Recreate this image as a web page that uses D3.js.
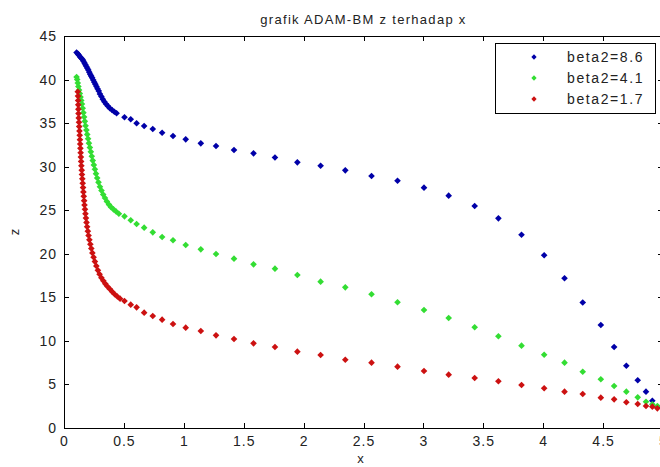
<!DOCTYPE html>
<html>
<head>
<meta charset="utf-8">
<script src="https://cdn.jsdelivr.net/npm/d3@7"></script>
<style>
  body { margin: 0; background: #fff; }
  svg { display: block; }
  .axis text { font-family: "Liberation Sans", Arial, sans-serif; font-size: 14px; letter-spacing: 1px; fill: #222; }
  .axis path, .axis line { stroke: #000; }
</style>
</head>
<body>
<div id="chart"></div>
<script>
// x positions shared by the sparse part of every series
const xSparse = [0.505, 0.557, 0.606, 0.669, 0.741, 0.819, 0.91, 1.016, 1.142, 1.269, 1.419, 1.582, 1.761,
  1.948, 2.142, 2.348, 2.567, 2.784, 3.005, 3.211, 3.428, 3.626, 3.819, 4.008, 4.178, 4.330, 4.481,
  4.592, 4.694, 4.789, 4.858, 4.911, 4.953];

const zBlue = [35.67, 35.44, 34.98, 34.67, 34.32, 33.90, 33.52, 33.14, 32.68, 32.37, 31.91, 31.53, 31.05,
  30.50, 30.11, 29.58, 28.93, 28.39, 27.59, 26.67, 25.49, 24.07, 22.19, 19.83, 17.19, 14.41, 11.82,
  9.30, 7.15, 5.48, 4.17, 3.13, 2.40];
const zGreen = [24.30, 23.85, 23.42, 23.00, 22.46, 21.93, 21.55, 21.01, 20.51, 19.97, 19.44, 18.79, 18.29,
  17.56, 16.80, 16.15, 15.35, 14.43, 13.55, 12.63, 11.56, 10.53, 9.45, 8.41, 7.50, 6.46, 5.59,
  4.82, 4.17, 3.52, 3.02, 2.72, 2.53];
const zRed = [14.58, 14.16, 13.85, 13.24, 12.86, 12.44, 11.94, 11.52, 11.14, 10.64, 10.22, 9.72, 9.30,
  8.76, 8.38, 7.84, 7.50, 7.04, 6.54, 6.12, 5.74, 5.36, 4.94, 4.56, 4.17, 3.90, 3.48,
  3.29, 2.95, 2.76, 2.53, 2.45, 2.26];

// dense start of each series [x, z]
const denseBlue = [[0.105,43.1],[0.115,42.95],[0.125,42.8],[0.135,42.6],[0.145,42.45],[0.155,42.3],[0.163,42.1],
  [0.171,41.9],[0.179,41.7],[0.187,41.5],[0.195,41.3],[0.203,41.1],[0.211,40.85],[0.219,40.6],[0.227,40.4],
  [0.235,40.2],[0.244,39.95],[0.253,39.7],[0.262,39.45],[0.271,39.2],[0.28,38.95],[0.29,38.7],[0.3,38.35],
  [0.312,38.05],[0.324,37.75],[0.337,37.45],[0.351,37.2],[0.366,36.95],[0.383,36.7],[0.401,36.5],[0.42,36.3],
  [0.439,36.13]];
const denseGreen = [[0.105,40.3],[0.11,40.0],[0.115,39.6],[0.12,39.2],[0.126,38.8],[0.132,38.4],[0.138,38.0],
  [0.144,37.6],[0.15,37.2],[0.156,36.7],[0.162,36.2],[0.168,35.7],[0.174,35.2],[0.18,34.7],[0.187,34.2],
  [0.194,33.7],[0.201,33.2],[0.208,32.7],[0.216,32.2],[0.224,31.7],[0.232,31.2],[0.24,30.7],[0.249,30.2],
  [0.258,29.7],[0.267,29.2],[0.277,28.7],[0.288,28.2],[0.3,27.7],[0.313,27.25],[0.327,26.8],[0.342,26.4],
  [0.358,26.0],[0.375,25.65],[0.393,25.35],[0.413,25.1],[0.435,24.85],[0.458,24.6]];
const denseRed = [[0.115,38.6],[0.117,38.1],[0.118,37.6],[0.119,37.1],[0.12,36.6],[0.121,36.1],[0.123,35.6],
  [0.125,35.1],[0.127,34.6],[0.129,34.1],[0.131,33.6],[0.133,33.1],[0.135,32.6],[0.137,32.1],[0.139,31.6],
  [0.141,31.1],[0.143,30.6],[0.145,30.1],[0.148,29.6],[0.15,29.1],[0.153,28.6],[0.156,28.1],[0.159,27.6],
  [0.162,27.1],[0.165,26.6],[0.168,26.1],[0.171,25.6],[0.175,25.1],[0.179,24.6],[0.183,24.1],[0.188,23.6],
  [0.193,23.1],[0.199,22.6],[0.205,22.1],[0.212,21.6],[0.22,21.1],[0.228,20.6],[0.237,20.1],[0.247,19.6],
  [0.258,19.1],[0.27,18.6],[0.283,18.1],[0.297,17.65],[0.312,17.25],[0.328,16.9],[0.345,16.55],[0.363,16.25],
  [0.382,15.95],[0.402,15.65],[0.423,15.35],[0.445,15.1],[0.468,14.85]];

const seriesNames = ['beta2=8.6', 'beta2=4.1', 'beta2=1.7'];
const seriesColors = ['#0000a8', '#33dd33', '#cc1111'];
const xTicks = [0, 0.5, 1, 1.5, 2, 2.5, 3, 3.5, 4, 4.5, 5];
const yTicks = [0, 5, 10, 15, 20, 25, 30, 35, 40, 45];

const series = [
  {name: seriesNames[0], color: seriesColors[0], pts: denseBlue.concat(xSparse.map((x, i) => [x, zBlue[i]]))},
  {name: seriesNames[1], color: seriesColors[1], pts: denseGreen.concat(xSparse.map((x, i) => [x, zGreen[i]]))},
  {name: seriesNames[2], color: seriesColors[2], pts: denseRed.concat(xSparse.map((x, i) => [x, zRed[i]]))}
];

const W = 660, H = 467;
const margin = {left: 64, top: 36, right: -3, bottom: 39};
const width = W - margin.left - margin.right;
const height = H - margin.top - margin.bottom;

const svg = d3.select('#chart').append('svg').attr('width', W).attr('height', H);
const chart = svg.append('g').attr('transform', `translate(${margin.left},${margin.top})`);

const xScale = d3.scaleLinear().domain([0, 5]).range([0, width]);
const yScale = d3.scaleLinear().domain([0, 45]).range([height, 0]);
const fmt = d3.format('~g');

// axes, ticks pointing inward like matlab
chart.append('g').attr('class', 'axis x-axis')
  .attr('transform', `translate(0,${height})`)
  .call(d3.axisBottom(xScale).tickValues(xTicks).tickFormat(fmt).tickSizeInner(-5).tickSizeOuter(0).tickPadding(8));
chart.append('g').attr('class', 'axis y-axis')
  .call(d3.axisLeft(yScale).tickValues(yTicks).tickFormat(fmt).tickSizeInner(-5).tickSizeOuter(0).tickPadding(7));
chart.append('g').attr('class', 'axis')
  .call(d3.axisTop(xScale).tickValues(xTicks).tickFormat('').tickSizeInner(-5).tickSizeOuter(0));
chart.append('g').attr('class', 'axis')
  .attr('transform', `translate(${width},0)`)
  .call(d3.axisRight(yScale).tickValues(yTicks).tickFormat('').tickSizeInner(-5).tickSizeOuter(0));
chart.selectAll('.axis .domain').remove();
chart.append('rect')
  .attr('width', width).attr('height', height)
  .attr('fill', 'none').attr('stroke', '#000').attr('stroke-width', 1)
  .attr('shape-rendering', 'crispEdges');
chart.selectAll('.axis line').attr('shape-rendering', 'crispEdges');

// markers
const marker = d3.symbol().type(d3.symbolSquare).size(22);
series.forEach((s) => {
  chart.append('g').attr('class', 'series')
    .selectAll('path')
    .data(s.pts)
    .join('path')
    .attr('d', marker)
    .attr('transform', (d) => `translate(${xScale(d[0])},${yScale(d[1])}) rotate(45)`)
    .attr('fill', s.color);
});

// title and axis labels
svg.append('text')
  .attr('x', margin.left + width / 2).attr('y', 24)
  .attr('text-anchor', 'middle')
  .attr('font-family', '"Liberation Sans", Arial, sans-serif')
  .attr('font-size', 13).attr('letter-spacing', 1.3).attr('fill', '#222')
  .text('grafik ADAM-BM z terhadap x');
svg.append('text')
  .attr('x', margin.left + width / 2 - 3).attr('y', 463)
  .attr('text-anchor', 'middle')
  .attr('font-family', '"Liberation Sans", Arial, sans-serif')
  .attr('font-size', 13).attr('fill', '#222')
  .text('x');
svg.append('text')
  .attr('transform', `translate(19,232) rotate(-90)`)
  .attr('text-anchor', 'middle')
  .attr('font-family', '"Liberation Sans", Arial, sans-serif')
  .attr('font-size', 13).attr('fill', '#222')
  .text('z');

// legend
const legend = svg.append('g').attr('transform', 'translate(495,43)');
legend.append('rect')
  .attr('width', 160).attr('height', 70)
  .attr('fill', '#fff').attr('stroke', '#000').attr('stroke-width', 1)
  .attr('shape-rendering', 'crispEdges');
const items = legend.selectAll('.item').data(series).join('g')
  .attr('class', 'item')
  .attr('transform', (d, i) => `translate(0,${14 + i * 21})`);
items.append('path')
  .attr('d', d3.symbol().type(d3.symbolSquare).size(14))
  .attr('transform', 'translate(39,0) rotate(45)')
  .attr('fill', (d) => d.color);
items.append('text')
  .attr('x', 72).attr('dy', '0.35em')
  .attr('font-family', '"Liberation Sans", Arial, sans-serif')
  .attr('font-size', 14).attr('letter-spacing', 1.6).attr('fill', '#222')
  .text((d) => d.name);
</script>
</body>
</html>
